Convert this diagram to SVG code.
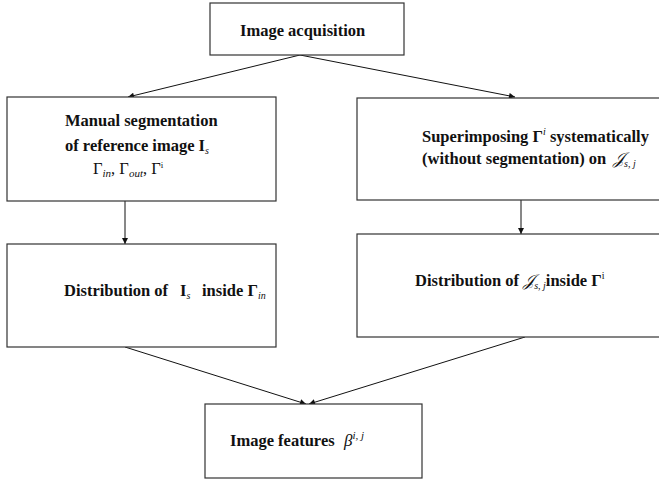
<svg xmlns="http://www.w3.org/2000/svg" width="659" height="480" viewBox="0 0 659 480">
<defs>
<marker id="ah" viewBox="0 0 10 10" refX="10" refY="5" markerWidth="7" markerHeight="6" orient="auto" markerUnits="userSpaceOnUse">
<path d="M0,0 L10,5 L0,10 z" fill="#111"/>
</marker>
</defs>
<style>
.box{fill:#fff;stroke:#333;stroke-width:1.2}
.t{font-family:"Liberation Serif","Times New Roman",serif;font-size:16.5px;font-weight:bold;fill:#111}
.m{font-family:"Liberation Serif","Times New Roman",serif;font-weight:normal}
.c{fill:none;stroke:#111;stroke-width:1;marker-end:url(#ah)}
</style>
<rect width="659" height="480" fill="#fff"/>
<g id="connectors">
<line class="c" x1="300" y1="55" x2="128" y2="97"/>
<line class="c" x1="300" y1="55" x2="515" y2="97"/>
<line class="c" x1="125" y1="201" x2="125" y2="244"/>
<line class="c" x1="521" y1="200" x2="521" y2="234"/>
<line class="c" x1="125" y1="347" x2="306" y2="404"/>
<line class="c" x1="525" y1="337" x2="309" y2="404"/>
</g>
<g id="n1">
<rect class="box" x="210" y="3" width="194" height="52"/>
<text class="t" x="240" y="36">Image acquisition</text>
</g>
<g id="n2">
<rect class="box" x="7" y="97" width="269" height="104"/>
<text class="t" x="65" y="126">Manual segmentation</text>
<text class="t" x="65" y="151">of reference image I<tspan class="m" font-style="italic" font-size="10" dy="3">s</tspan></text>
<text class="t m" x="93" y="174" font-size="16">Γ<tspan font-style="italic" font-size="11" dy="3">in</tspan><tspan dy="-3">, Γ</tspan><tspan font-style="italic" font-size="11" dy="3">out</tspan><tspan dy="-3">, Γ</tspan><tspan font-size="9" dy="-6">i</tspan></text>
</g>
<g id="n3">
<rect class="box" x="357" y="98" width="310" height="102"/>
<text class="t" x="422" y="142">Superimposing Γ<tspan class="m" font-style="italic" font-size="10" dy="-7">i</tspan><tspan dy="7"> systematically</tspan></text>
<text class="t" x="422" y="164">(without segmentation) on <tspan class="m" font-style="italic" x="613">𝒥</tspan><tspan class="m" font-style="italic" font-size="10" dy="3">s, j</tspan></text>
</g>
<g id="n4">
<rect class="box" x="7" y="244" width="269" height="103"/>
<text class="t" x="64" y="296">Distribution of <tspan x="180">I</tspan><tspan class="m" font-style="italic" font-size="10" dy="3">s</tspan><tspan x="202" dy="-3">inside Γ</tspan><tspan class="m" font-style="italic" font-size="10" dy="3">in</tspan></text>
</g>
<g id="n5">
<rect class="box" x="357" y="234" width="310" height="103"/>
<text class="t" x="415" y="286">Distribution of <tspan class="m" font-style="italic">𝒥</tspan><tspan class="m" font-style="italic" font-size="10" dy="3">s, j</tspan><tspan dy="-3">inside Γ</tspan><tspan class="m" font-size="10" dy="-7">i</tspan></text>
</g>
<g id="n6">
<rect class="box" x="205" y="404" width="217" height="74"/>
<text class="t" x="230" y="446">Image features <tspan class="m" font-style="italic" font-size="17" x="344">β</tspan><tspan class="m" font-style="italic" font-size="11" dy="-7">i, j</tspan></text>
</g>
</svg>
